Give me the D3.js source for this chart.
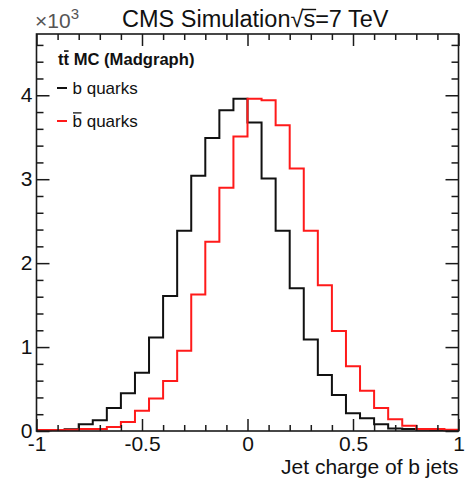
<!DOCTYPE html>
<html>
<head>
<meta charset="utf-8">
<script src="https://cdn.jsdelivr.net/npm/d3@7"></script>
<style>
  html, body { margin: 0; padding: 0; background: #fff; }
  svg { display: block; font-family: "Liberation Sans", Arial, Helvetica, sans-serif; }
</style>
</head>
<body>
<svg id="chart" width="472" height="479"></svg>
<script>
// Jet charge distributions, 30 bins from -1 to 1 (entries per bin)
const xRange = [-1, 1];
const nBins = 30;
const bQuarks = [8, 12, 20, 80, 127, 274, 449, 694, 1113, 1607, 2385, 3040, 3492, 3821, 3960,
                 3675, 3008, 2385, 1702, 1091, 667, 429, 210, 151, 80, 30, 24, 15, 12, 8];
const bbarQuarks = [12, 12, 15, 24, 24, 48, 107, 242, 387, 595, 956, 1627, 2254, 2897, 3510,
                    3960, 3940, 3643, 3127, 2385, 1738, 1190, 772, 480, 274, 139, 63, 24, 24, 15];

const xMajorTicks = [-1, -0.5, 0, 0.5, 1];
const xMinorTicks = [-0.9, -0.8, -0.7, -0.6, -0.4, -0.3, -0.2, -0.1, 0.1, 0.2, 0.3, 0.4, 0.6, 0.7, 0.8, 0.9];
const yMajorTicks = [0, 1000, 2000, 3000, 4000];
const yMinorTicks = [200, 400, 600, 800, 1200, 1400, 1600, 1800, 2200, 2400, 2600, 2800,
                     3200, 3400, 3600, 3800, 4200, 4400, 4600];
const yMax = 4730;

const frame = { left: 36.5, right: 458.5, top: 34, bottom: 431 };
const axisColor = "#1a1a1a";

const svg = d3.select("#chart");
svg.append("rect").attr("width", 472).attr("height", 479).attr("fill", "#fff");

const x = d3.scaleLinear().domain(xRange).range([frame.left, frame.right]);
const y = d3.scaleLinear().domain([0, yMax]).range([frame.bottom, frame.top]);

const binWidth = (xRange[1] - xRange[0]) / nBins;
const edges = d3.range(nBins + 1).map(i => xRange[0] + i * binWidth);

// histogram outline as a step line over bin edges
const stepLine = d3.line()
  .x(d => x(d[0]))
  .y(d => y(d[1]))
  .curve(d3.curveStepAfter);

function histPoints(values) {
  const pts = values.map((v, i) => [edges[i], v]);
  pts.push([edges[nBins], values[nBins - 1]]);
  return pts;
}

const plot = svg.append("g");
plot.append("path")
  .attr("d", stepLine(histPoints(bQuarks)))
  .attr("fill", "none").attr("stroke", "#111").attr("stroke-width", 2);
plot.append("path")
  .attr("d", stepLine(histPoints(bbarQuarks)))
  .attr("fill", "none").attr("stroke", "#ff1a1a").attr("stroke-width", 2);

// axes: ticks drawn inward on all four sides
function styleAxis(g) {
  g.select(".domain").remove();
  g.selectAll(".tick line").attr("stroke", axisColor).attr("stroke-width", 1.5);
}

svg.append("g").attr("transform", `translate(0,${frame.bottom})`)
  .call(d3.axisBottom(x).tickValues(xMajorTicks).tickSize(-12)
        .tickFormat(d => String(d)))
  .call(styleAxis)
  .call(g => g.selectAll("text").attr("y", 20).attr("dy", null)
              .attr("font-size", 21).attr("fill", "#111")
              .attr("font-family", "'Liberation Sans', Arial, sans-serif"));
svg.append("g").attr("transform", `translate(0,${frame.bottom})`)
  .call(d3.axisBottom(x).tickValues(xMinorTicks).tickSize(-6).tickFormat(""))
  .call(styleAxis);
svg.append("g").attr("transform", `translate(0,${frame.top})`)
  .call(d3.axisTop(x).tickValues(xMajorTicks).tickSize(-12).tickFormat(""))
  .call(styleAxis);
svg.append("g").attr("transform", `translate(0,${frame.top})`)
  .call(d3.axisTop(x).tickValues(xMinorTicks).tickSize(-6).tickFormat(""))
  .call(styleAxis);

svg.append("g").attr("transform", `translate(${frame.left},0)`)
  .call(d3.axisLeft(y).tickValues(yMajorTicks).tickSize(-13).tickPadding(4)
        .tickFormat(d => d / 1000))
  .call(styleAxis)
  .call(g => g.selectAll("text").attr("font-size", 21).attr("fill", "#111")
              .attr("dy", "0.3em")
              .attr("font-family", "'Liberation Sans', Arial, sans-serif"));
svg.append("g").attr("transform", `translate(${frame.left},0)`)
  .call(d3.axisLeft(y).tickValues(yMinorTicks).tickSize(-7).tickFormat(""))
  .call(styleAxis);
svg.append("g").attr("transform", `translate(${frame.right},0)`)
  .call(d3.axisRight(y).tickValues(yMajorTicks).tickSize(-13).tickFormat(""))
  .call(styleAxis);
svg.append("g").attr("transform", `translate(${frame.right},0)`)
  .call(d3.axisRight(y).tickValues(yMinorTicks).tickSize(-7).tickFormat(""))
  .call(styleAxis);

// frame
svg.append("rect")
  .attr("x", frame.left).attr("y", frame.top)
  .attr("width", frame.right - frame.left).attr("height", frame.bottom - frame.top)
  .attr("fill", "none").attr("stroke", axisColor).attr("stroke-width", 1.6);

// x axis title
svg.append("text")
  .attr("x", frame.right).attr("y", 474)
  .attr("text-anchor", "end").attr("font-size", 21).attr("fill", "#111")
  .text("Jet charge of b jets");

// exponent label for the y axis
const expo = svg.append("text").attr("x", 35).attr("y", 28)
  .attr("font-size", 21).attr("fill", "#555");
expo.append("tspan").text("\u00d710");
expo.append("tspan").attr("font-size", 15).attr("dy", -9).text("3");

// title with sqrt(s)
const title = svg.append("text").attr("x", 122).attr("y", 27)
  .attr("font-size", 23.5).attr("fill", "#111");
title.append("tspan").text("CMS Simulation");
title.append("tspan").text("\u221a");
title.append("tspan").text("s=7 TeV");
{
  const node = title.node();
  const sqrtBox = node.getExtentOfChar(14);
  const sBox = node.getExtentOfChar(15);
  svg.append("line")
    .attr("x1", sqrtBox.x + sqrtBox.width - 1).attr("x2", sBox.x + sBox.width + 1)
    .attr("y1", sqrtBox.y + 3.5).attr("y2", sqrtBox.y + 3.5)
    .attr("stroke", "#111").attr("stroke-width", 1.4);
}

// legend
function overline(textSel, idx, color, width, baseline, fontSize, lift) {
  const b = textSel.node().getExtentOfChar(idx);
  const yy = baseline - fontSize * lift;
  svg.append("line")
    .attr("x1", b.x + 0.5).attr("x2", b.x + b.width - 0.5)
    .attr("y1", yy).attr("y2", yy)
    .attr("stroke", color).attr("stroke-width", width);
}

const header = svg.append("text").attr("x", 58).attr("y", 65)
  .attr("font-size", 16.6).attr("font-weight", "bold").attr("fill", "#111")
  .text("tt MC (Madgraph)");
overline(header, 1, "#111", 1.6, 65, 16.6, 0.84);

const legendItems = [
  { label: "b quarks", color: "#111", y: 88, bar: false },
  { label: "b quarks", color: "#ff1a1a", y: 121, bar: true }
];
legendItems.forEach(item => {
  svg.append("line")
    .attr("x1", 57).attr("x2", 67).attr("y1", item.y).attr("y2", item.y)
    .attr("stroke", item.color).attr("stroke-width", 2);
  const base = item.y + 5.5;
  const t = svg.append("text").attr("x", 72.5).attr("y", base)
    .attr("font-size", 17).attr("fill", "#111").text(item.label);
  if (item.bar) overline(t, 0, "#111", 1.3, base, 17, 0.8);
});
</script>
</body>
</html>
